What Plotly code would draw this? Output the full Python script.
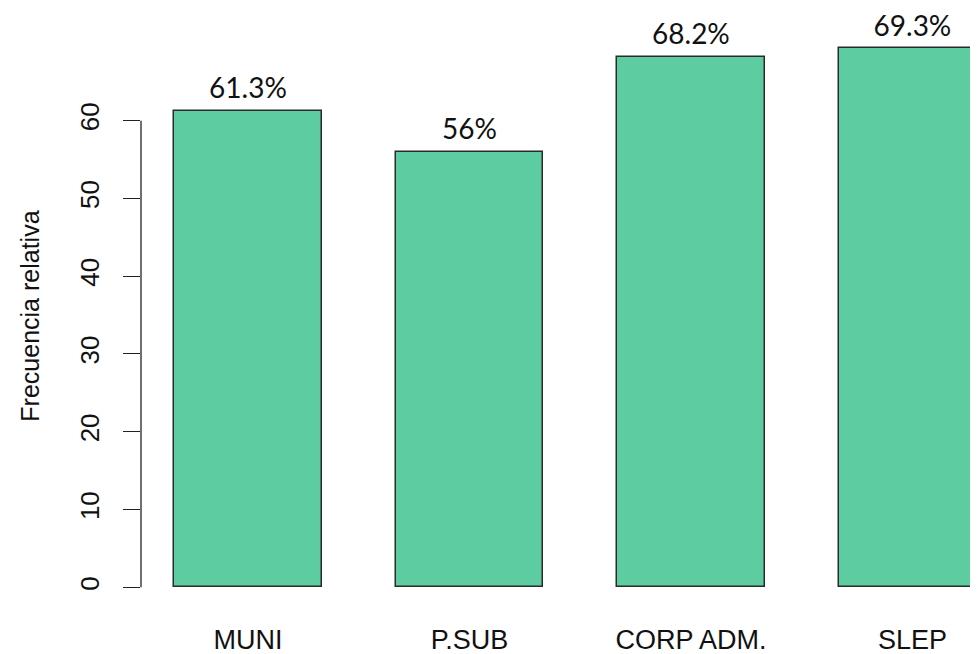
import plotly.graph_objects as go

categories = ["MUNI", "P.SUB", "CORP ADM.", "SLEP"]
values = [61.3, 56, 68.2, 69.3]
y_ticks = [0, 10, 20, 30, 40, 50, 60]
y_title = "Frecuencia relativa"

labels = [f"{v:g}%" for v in values]
label_offset = 2.5

# page body has an 8px default margin; figure is sized to fit the window
L, R, T, B = 133, 0, 0, 54
W, H = 970, 646

fig = go.Figure()
fig.add_trace(go.Bar(
    x=categories, y=values, width=0.6655,
    marker=dict(color="#5DCDA1", line=dict(color="#2a2a2a", width=1.5)),
    hoverinfo="skip", showlegend=False,
))
fig.add_trace(go.Scatter(
    x=categories, y=[v + label_offset for v in values],
    mode="text", text=labels, textposition="middle center",
    textfont=dict(family="Lato", size=28, color="#111111"),
    cliponaxis=False, showlegend=False, hoverinfo="skip",
))

fig.update_layout(
    width=W, height=H,
    margin=dict(l=L, r=R, t=T, b=B),
    paper_bgcolor="white", plot_bgcolor="white",
    bargap=0,
    font=dict(family="Liberation Sans, Arial", color="#111111"),
    xaxis=dict(
        type="category", range=[-0.483, 3.296], automargin=False,
        showgrid=False, zeroline=False, showline=False, ticks="",
        tickfont=dict(size=27, family="Liberation Sans"),
        ticklabelstandoff=21,
    ),
    yaxis=dict(
        range=[-1.633, 74.49], automargin=False,
        tickvals=y_ticks, ticktext=[str(t) for t in y_ticks],
        tickangle=-90,
        showgrid=False, zeroline=False, showline=False,
        ticks="outside", ticklen=17, tickwidth=1.3, tickcolor="#222222",
        tickfont=dict(size=26, family="Liberation Sans"),
        ticklabelstandoff=14,
    ),
    annotations=[dict(
        text=y_title, textangle=-90, showarrow=False,
        xref="paper", yref="y", x=(6 - L) / (W - L - R), y=34.8,
        xanchor="left", yanchor="middle",
        font=dict(size=25, family="Liberation Sans", color="#111111"),
    )],
    shapes=[dict(
        type="line", xref="paper", yref="y",
        x0=0, x1=0, y0=y_ticks[0], y1=y_ticks[-1],
        line=dict(color="#222222", width=1.3),
    )],
)

fig.write_html("out.html")
